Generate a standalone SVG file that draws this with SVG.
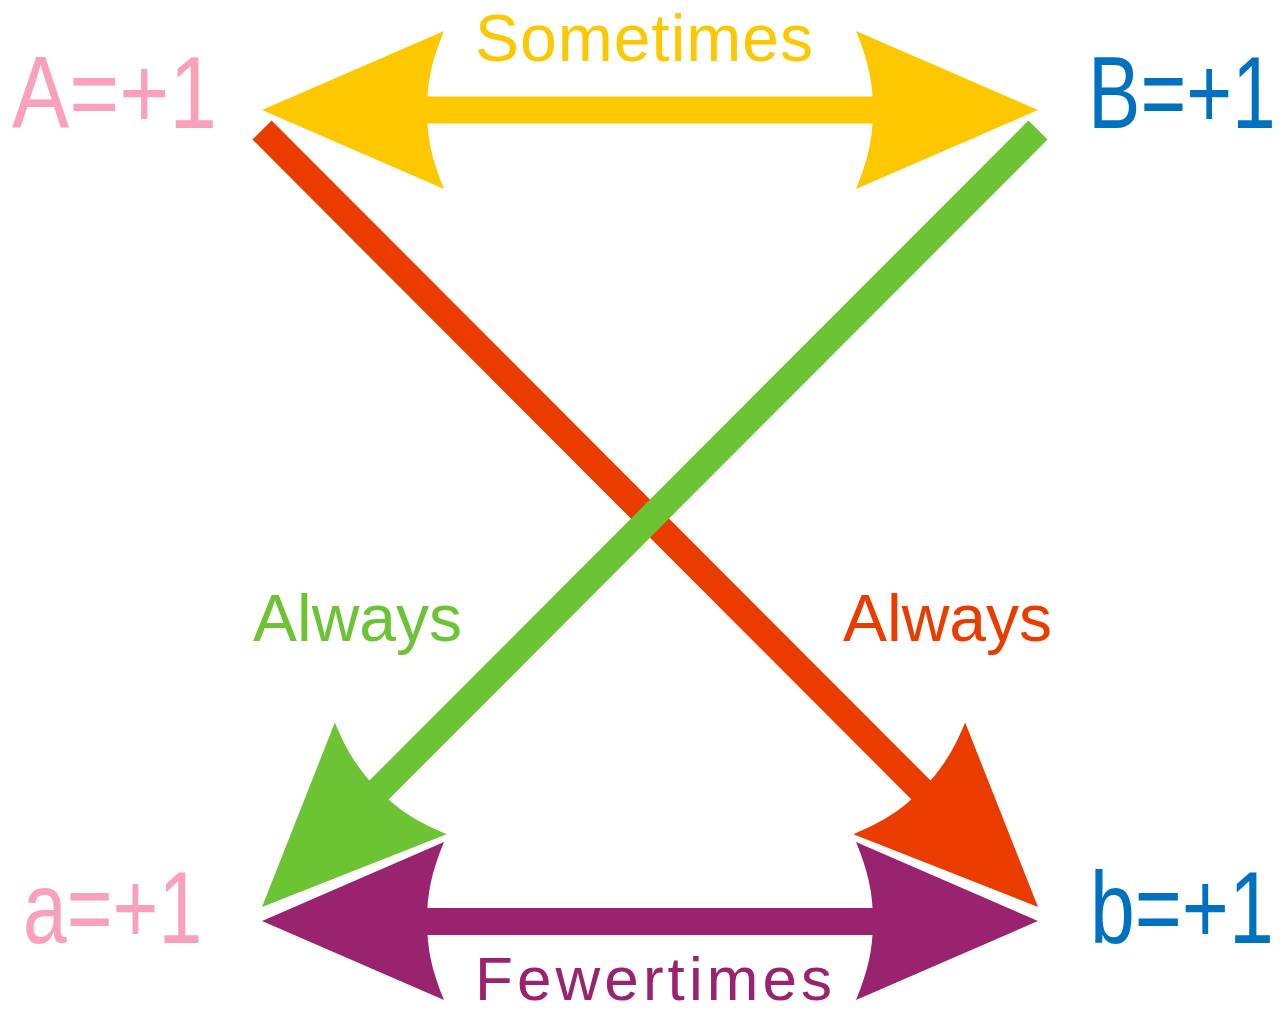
<svg xmlns="http://www.w3.org/2000/svg" width="1287" height="1013" viewBox="0 0 1287 1013">
  <style>
    text { font-family: "Liberation Sans", Arial, sans-serif; }
    .big { font-size: 102px; }
    .mid { font-size: 66px; }
    .shaft { fill: none; stroke-width: 27; stroke-linecap: butt; }
  </style>
  <defs>
    <path id="head" d="M0,0 L-182,-79 C-170,-50 -165,-28 -165,0 C-165,28 -170,50 -182,79 Z"/>
  </defs>
  <rect width="1287" height="1013" fill="#ffffff"/>
  <g id="connectors">
    <g id="sometimes-arrow" fill="#FDC800">
      <line class="shaft" x1="420" y1="110" x2="880" y2="110" stroke="#FDC800"/>
      <use href="#head" transform="translate(262,110) rotate(180)"/>
      <use href="#head" transform="translate(1038,110)"/>
    </g>
    <g id="fewertimes-arrow" fill="#9A2370">
      <line class="shaft" x1="420" y1="921.5" x2="880" y2="921.5" stroke="#9A2370"/>
      <use href="#head" transform="translate(262,921) rotate(180)"/>
      <use href="#head" transform="translate(1038,921)"/>
    </g>
    <g id="red-always-arrow" fill="#EB3C00">
      <line class="shaft" x1="262" y1="130" x2="932" y2="801" stroke="#EB3C00"/>
      <use href="#head" transform="translate(1038,907) rotate(45)"/>
    </g>
    <g id="green-always-arrow" fill="#6CC333">
      <line class="shaft" x1="1038" y1="130" x2="368" y2="801" stroke="#6CC333"/>
      <use href="#head" transform="translate(262,907) rotate(135)"/>
    </g>
  </g>
  <g id="node-A"><text class="big" x="0" y="0" fill="#F9A0BA" transform="translate(12,128) scale(0.84,1)">A=+1</text></g>
  <g id="node-B"><text class="big" x="0" y="0" fill="#0071C1" transform="translate(1088,128) scale(0.77,1)">B=+1</text></g>
  <g id="node-a"><text class="big" x="0" y="0" fill="#F9A0BA" transform="translate(23,943) scale(0.77,1)">a=+1</text></g>
  <g id="node-b"><text class="big" x="0" y="0" fill="#0071C1" transform="translate(1090,943) scale(0.79,1)">b=+1</text></g>
  <g id="labels">
    <text class="mid" x="475" y="61" fill="#FDC800" textLength="338">Sometimes</text>
    <text x="475" y="1000" fill="#9A2370" font-size="62" textLength="357">Fewertimes</text>
    <text class="mid" x="253" y="641" fill="#6CC333" textLength="209">Always</text>
    <text class="mid" x="843" y="641" fill="#EB3C00" textLength="209">Always</text>
  </g>
</svg>
